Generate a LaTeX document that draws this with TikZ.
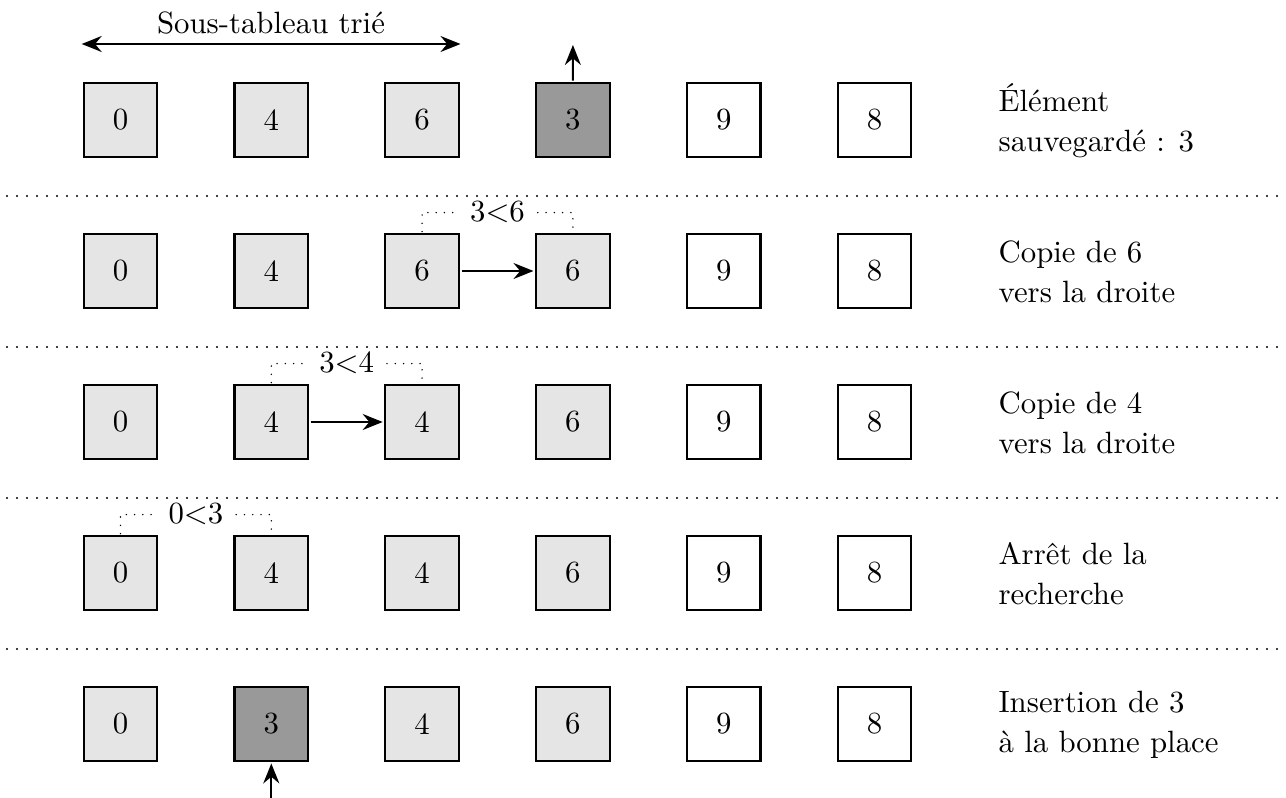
\documentclass[tikz,border=0pt]{standalone}
\usetikzlibrary{arrows.meta}
\tikzset{
  txt/.style={scale=2.31, font=\fontsize{10}{13}\selectfont},
  cell/.style={draw, line width=1.7pt, minimum size=23.9pt, inner sep=0pt, scale=2.31, font=\fontsize{10}{13}\selectfont},
  lc/.style={cell, fill=gray!20},
  dc/.style={cell, fill=gray!80},
  wc/.style={cell, fill=white},
  sepline/.style={line width=1.6pt, dash pattern=on 0pt off 7.5pt, line cap=round},
  cmpline/.style={line width=1.2pt, dash pattern=on 0pt off 6.2pt, line cap=round},
  tipst/.tip={Stealth[length=15pt,width=12pt,inset=5pt]},
  arr/.style={line width=1.5pt, -tipst},
  darr/.style={line width=1.5pt, tipst-tipst},
  lab/.style={txt, align=left, anchor=west, inner sep=0pt},
  cmplab/.style={txt, inner sep=4pt},
}
\begin{document}
\begin{tikzpicture}[x=0.75pt, y=-0.75pt]
\useasboundingbox[fill=white] (0,0) rectangle (1286,798);
% cells
\foreach \r/\vals in {1/{0/lc,4/lc,6/lc,3/dc,9/wc,8/wc},
                      2/{0/lc,4/lc,6/lc,6/lc,9/wc,8/wc},
                      3/{0/lc,4/lc,4/lc,6/lc,9/wc,8/wc},
                      4/{0/lc,4/lc,4/lc,6/lc,9/wc,8/wc},
                      5/{0/lc,3/dc,4/lc,6/lc,9/wc,8/wc}} {
  \foreach \v/\s [count=\c] in \vals {
    \node[\s] (c\r\c) at ({120.5+150.8*(\c-1)}, {120+151*(\r-1)}) {\v};
  }
}
% separators
\foreach \k/\yy in {1/196,2/347,3/498,4/649} {
  \coordinate (sl\k) at (7,\yy);
  \coordinate (sr\k) at (1286,\yy);
  \draw[sepline] (sl\k) -- (sr\k);
}
% row 1
\coordinate (sa) at (81.7,44);
\coordinate (sb) at (460.5,44);
\draw[darr] (sa) -- (sb);
\node[txt, anchor=base] (st) at (271,34) {Sous-tableau trié};
\coordinate (up) at (572.9,45);
\draw[arr] (c14.north) -- (up);
\node[lab] (l1) at (998,121) {Élément\\sauvegardé : 3};
% row 2
\draw[arr] (c23.east) -- (c24.west);
\path (c23.north) -- ++(0,-19) -| node[pos=0.25, cmplab] (k2) {$3{<}6$} (c24.north);
\draw[cmpline] (c23.north) |- (k2.west);
\draw[cmpline] (k2.east) -| (c24.north);
\node[lab] (l2) at (998,272) {Copie de 6\\vers la droite};
% row 3
\draw[arr] (c32.east) -- (c33.west);
\path (c32.north) -- ++(0,-19) -| node[pos=0.25, cmplab] (k3) {$3{<}4$} (c33.north);
\draw[cmpline] (c32.north) |- (k3.west);
\draw[cmpline] (k3.east) -| (c33.north);
\node[lab] (l3) at (998,423) {Copie de 4\\vers la droite};
% row 4
\path (c41.north) -- ++(0,-19) -| node[pos=0.25, cmplab] (k4) {$0{<}3$} (c42.north);
\draw[cmpline] (c41.north) |- (k4.west);
\draw[cmpline] (k4.east) -| (c42.north);
\node[lab] (l4) at (998,574) {Arrêt de la\\recherche};
% row 5
\coordinate (bot) at (271.3,798);
\draw[arr] (bot) -- (c52.south);
\node[lab] (l5) at (998,725) {Insertion de 3\\à la bonne place};
\end{tikzpicture}
\end{document}
